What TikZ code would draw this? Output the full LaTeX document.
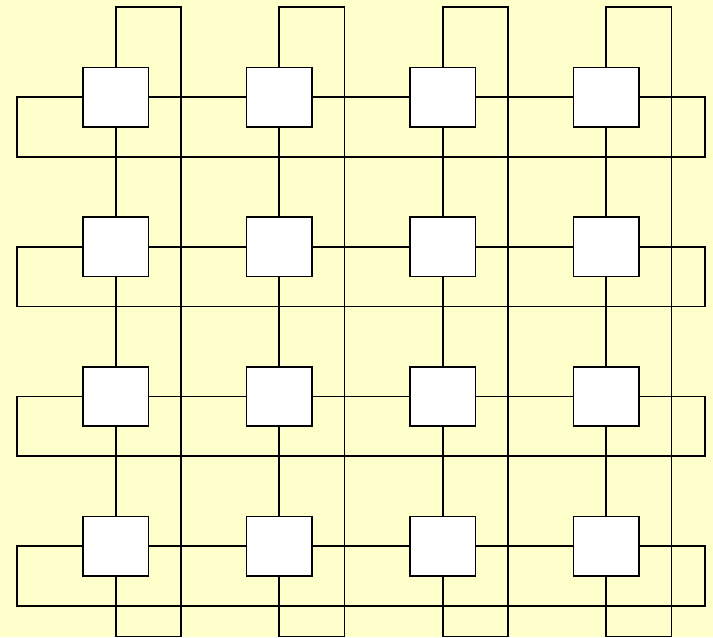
\documentclass[tikz,border=0pt]{standalone}
\usepackage{tikz}
\usetikzlibrary{calc}
\definecolor{bgyellow}{HTML}{FFFFCC}
\tikzset{
  pe/.style={
    draw, rectangle, fill=white, inner sep=0pt, line width=1.2pt,
    minimum width=49.1pt, minimum height=44.6pt
  },
  link/.style={draw, line width=1.2pt},
}
\begin{document}
\begin{tikzpicture}[x=0.75pt,y=-0.75pt]
  \fill[bgyellow] (0,0) rectangle (713,637);
  \useasboundingbox (0,0) rectangle (713,637);
  \foreach \i in {1,...,4}
    \foreach \j in {1,...,4}
      \node[pe] (n\i\j) at ({115.75+163.5*(\j-1)},{97.25+149.6*(\i-1)}) {};
  \foreach \i in {1,...,4} {
    \foreach \j/\k in {1/2,2/3,3/4} {
      \draw[link] (n\i\j.east) -- (n\i\k.west);
      \draw[link] (n\j\i.south) -- (n\k\i.north);
    }
    \draw[link] (n\i1.west) -- ++(-65.5,0) -- ++(0,59.75)
      -| ($(n\i4.east)+(65.5,0)$) -- (n\i4.east);
    \draw[link] (n1\i.north) -- ++(0,-60) -- ++(65.25,0)
      |- ($(n4\i.south)+(0,59.75)$) -- (n4\i.south);
  }
\end{tikzpicture}
\end{document}
